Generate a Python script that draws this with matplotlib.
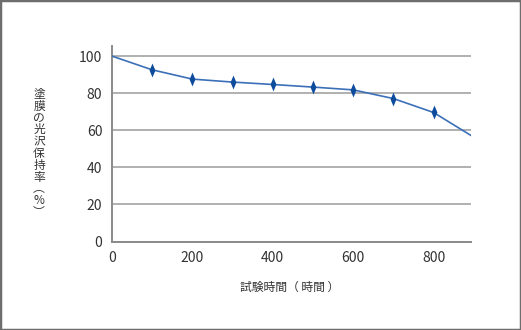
import matplotlib.pyplot as plt
from matplotlib.patches import Rectangle

plt.rcParams['font.family'] = ['Noto Sans CJK JP', 'DejaVu Sans']

# test hours vs gloss retention (%)
hours = [0, 100, 200, 300, 400, 500, 600, 700, 800, 893]
retention = [100, 92.6, 87.6, 86.0, 84.7, 83.3, 81.8, 77.1, 69.6, 57.2]
marker_hours = hours[1:-1]
marker_retention = retention[1:-1]

x_ticks = [0, 200, 400, 600, 800]
y_ticks = [0, 20, 40, 60, 80, 100]

fig = plt.figure(figsize=(5.21, 3.30), dpi=100)
ax = fig.add_axes([0.215, 0.268, 0.689, 0.594])

line_color = '#3b70b8'
marker_color = '#0d4c9c'
# tall thin diamond like the original
slim_diamond = [(0, 1), (0.42, 0), (0, -1), (-0.42, 0), (0, 1)]
ax.plot(hours, retention, color=line_color, lw=1.2, zorder=3)
ax.plot(marker_hours, marker_retention, ls='none', marker=slim_diamond, ms=10,
        mew=0, color=marker_color, zorder=4)

ax.set_xlim(0, 893)
ax.set_ylim(0, 105.7)
ax.set_xticks(x_ticks)
ax.set_yticks(y_ticks)
ax.yaxis.grid(True, color='#b0b0b0', lw=1.4)
ax.set_axisbelow(True)
for s in ['top', 'right']:
    ax.spines[s].set_visible(False)
for s in ['left', 'bottom']:
    ax.spines[s].set_color('#8a8a8a')
    ax.spines[s].set_linewidth(1.4)
ax.tick_params(length=0, labelsize=10, colors='#333333', pad=7)

fig.text(0.556, 0.13, '試験時間（ 時間 ）', ha='center', va='center',
         fontsize=8.5, color='#333333')
fig.text(0.075, 0.535, '\n'.join('塗膜の光沢保持率︵%︶'), ha='center', va='center',
         fontsize=8.5, color='#333333', linespacing=0.88)

fig.patches.append(Rectangle((0, 0), 1, 1, transform=fig.transFigure,
                             fill=False, ec='#6e6e6e', lw=2.5))

fig.savefig('out.png', dpi=100)
